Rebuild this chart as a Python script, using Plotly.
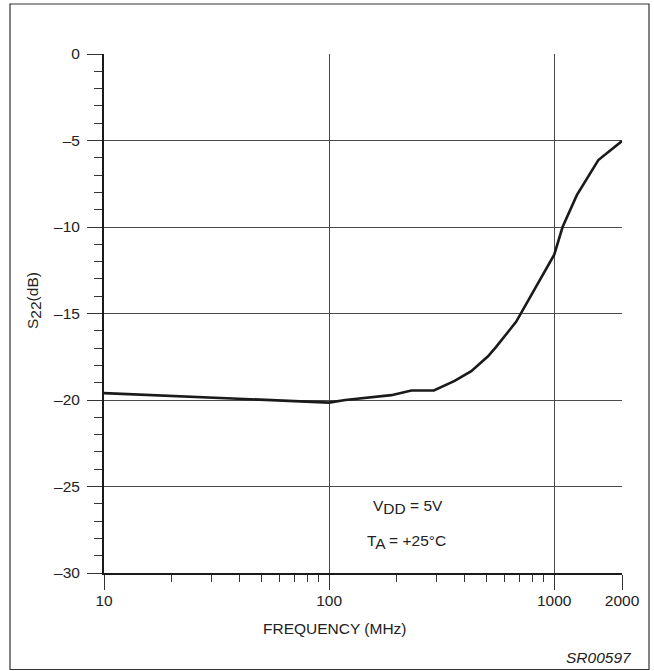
import plotly.graph_objects as go

freq_mhz = [10, 100, 118, 189, 232, 292, 361, 428, 508, 552, 677, 1000, 1089, 1260, 1570, 2000]
s22_db = [-19.6, -20.15, -20.0, -19.72, -19.45, -19.45, -18.9, -18.33, -17.47, -16.93, -15.48, -11.6, -10.0, -8.16, -6.13, -5.03]

x_major = [10, 100, 1000, 2000]
x_major_labels = ["10", "100", "1000", "2000"]
x_minor = [20, 30, 40, 50, 60, 70, 80, 90, 200, 300, 400, 500, 600, 700, 800, 900]
y_major = [0, -5, -10, -15, -20, -25, -30]
y_major_labels = ["0", "\u20135", "\u201310", "\u201315", "\u201320", "\u201325", "\u201330"]

FONT = "Liberation Sans, Arial, Helvetica, sans-serif"
TXT = "#222222"
GRID = "#4a4a4a"
FS = 15.5

def sub(s, size=FS):
    return "<sub><span style='font-size:%spx'>%s</span></sub>" % (size, s)

fig = go.Figure()
fig.add_trace(go.Scatter(x=freq_mhz, y=s22_db, mode="lines",
                         line=dict(color="#1a1a1a", width=2.6), showlegend=False,
                         hoverinfo="skip"))

L, R, T, B = 104, 32, 54, 98
W, H = 654, 671
pw = W - L - R
ph = H - T - B

def px2paper_x(px):
    return (px - L) / pw

def py2paper_y(py):
    return (H - B - py) / ph

fig.update_layout(
    width=W, height=H,
    margin=dict(l=L, r=R, t=T, b=B, pad=0),
    paper_bgcolor="white", plot_bgcolor="white",
    font=dict(family=FONT, size=FS, color=TXT),
    xaxis=dict(
        type="log", range=[1, 3.30103],
        tickmode="array", tickvals=x_major, ticktext=x_major_labels,
        ticks="outside", ticklen=15, tickwidth=1, tickcolor="#333333",
        showgrid=True, gridcolor=GRID, gridwidth=1,
        showline=True, linecolor="#1a1a1a", linewidth=2,
        zeroline=False, ticklabelstandoff=-3,
        tickfont=dict(size=FS),
        minor=dict(tickmode="array", tickvals=x_minor, ticks="outside",
                   ticklen=7, tickwidth=1, tickcolor="#333333", showgrid=False),
    ),
    yaxis=dict(
        range=[-30, 0],
        tickmode="array", tickvals=y_major, ticktext=y_major_labels,
        ticks="outside", ticklen=15, tickwidth=1, tickcolor="#333333",
        showgrid=True, gridcolor=GRID, gridwidth=1,
        showline=True, linecolor="#1a1a1a", linewidth=2,
        zeroline=False, ticklabelstandoff=4,
        tickfont=dict(size=FS),
        minor=dict(dtick=1, ticks="outside", ticklen=8, tickwidth=1,
                   tickcolor="#333333", showgrid=False),
    ),
    shapes=[dict(type="rect", xref="paper", yref="paper",
                 x0=px2paper_x(10), x1=px2paper_x(649),
                 y0=py2paper_y(669.5), y1=py2paper_y(4),
                 line=dict(color="#333333", width=1.2), fillcolor="rgba(0,0,0,0)",
                 layer="below")],
    annotations=[
        dict(text="S" + sub("22") + "(dB)", xref="paper", yref="paper",
             x=px2paper_x(34), y=py2paper_y(301), textangle=-90,
             showarrow=False, xanchor="center", yanchor="middle",
             font=dict(size=FS, color=TXT)),
        dict(text="FREQUENCY (MHz)", xref="paper", yref="paper",
             x=px2paper_x(335), y=py2paper_y(628), showarrow=False,
             xanchor="center", yanchor="middle", font=dict(size=FS, color=TXT)),
        dict(text="V" + sub("DD") + " = 5V", xref="paper", yref="paper",
             x=px2paper_x(408), y=py2paper_y(507), showarrow=False,
             xanchor="center", yanchor="middle", font=dict(size=FS, color=TXT)),
        dict(text="T" + sub("A") + " = +25°C", xref="paper", yref="paper",
             x=px2paper_x(406), y=py2paper_y(542), showarrow=False,
             xanchor="center", yanchor="middle", font=dict(size=FS, color=TXT)),
        dict(text="<i>SR00597</i>", xref="paper", yref="paper",
             x=px2paper_x(634), y=py2paper_y(657), showarrow=False,
             xanchor="right", yanchor="middle", font=dict(size=FS, color=TXT)),
    ],
)

fig.write_html("out.html")
